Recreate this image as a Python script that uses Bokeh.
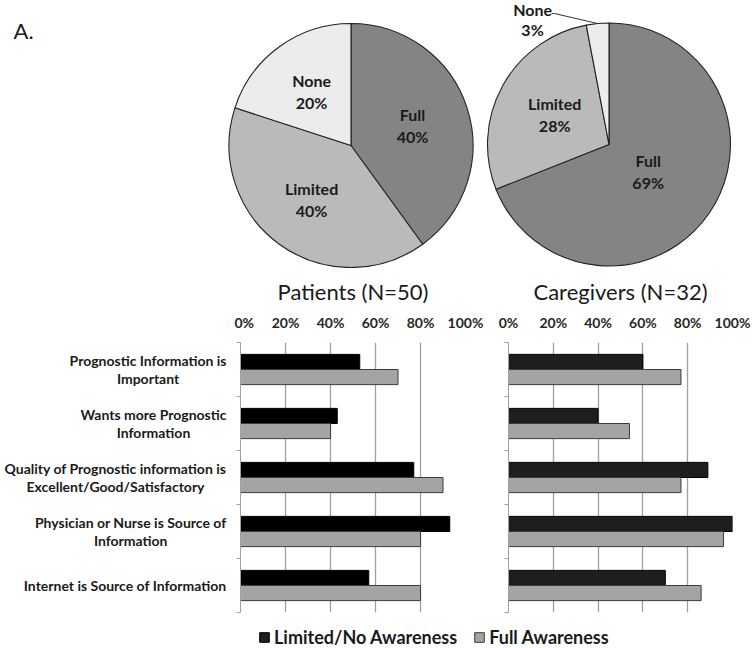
import numpy as np
import pandas as pd
from bokeh.plotting import figure
from bokeh.models import (ColumnDataSource, Range1d, FixedTicker, PrintfTickFormatter,
                          Label, Legend, LegendItem)
from bokeh.layouts import column, row
from bokeh.core.properties import value
from bokeh.embed import file_html
from bokeh.resources import INLINE

# ---------------- data ----------------
awareness_levels = ["Full", "Limited", "None"]
patients_pct = [40, 40, 20]
caregivers_pct = [69, 28, 3]

questions = [
    "Prognostic Information is\nImportant",
    "Wants more Prognostic\nInformation",
    "Quality of Prognostic information is\nExcellent/Good/Satisfactory",
    "Physician or Nurse is Source of\nInformation",
    "Internet is Source of Information",
]
patients_limited = [53, 43, 77, 93, 57]
patients_full = [70, 40, 90, 80, 80]
caregivers_limited = [60, 40, 89, 100, 70]
caregivers_full = [77, 54, 77, 96, 86]
x_ticks = [0, 20, 40, 60, 80, 100]
legend_labels = ["Limited/No Awareness", "Full Awareness"]

# ---------------- style ----------------
FONT = "Lato"
TXT = "#1a1a1a"
PIE_COLORS = ["#848484", "#bababa", "#ececec"]
GRID = "#a0a0a0"
GRAY_BAR = "#a4a4a4"
GRAY_EDGE = "#3c3c3c"

W = 752
PIE_H = 268

# ---------------- pies ----------------
pie = figure(width=W, height=PIE_H, x_range=Range1d(0, W), y_range=Range1d(0, PIE_H),
             output_backend="svg", toolbar_location=None, min_border=0)
pie.xaxis.visible = False
pie.yaxis.visible = False
pie.grid.visible = False
pie.outline_line_color = None


def add_pie(p, pcts, cx, cy, r, label_frac):
    frac = np.array(pcts, dtype=float) / sum(pcts)
    cum = np.cumsum(frac)
    start = np.pi / 2 - 2 * np.pi * (cum - frac)
    end = np.pi / 2 - 2 * np.pi * cum
    mid = (start + end) / 2
    df = pd.DataFrame(dict(level=awareness_levels, pct=pcts, start=start, end=end,
                           color=PIE_COLORS))
    p.wedge(x=cx, y=cy, radius=r, radius_units="screen", start_angle="start",
            end_angle="end", direction="clock", fill_color="color",
            line_color="#222222", line_width=1.1, source=ColumnDataSource(df))
    inside = frac >= 0.05
    lab = pd.DataFrame(dict(
        x=cx + np.array(label_frac) * r * np.cos(mid),
        y=cy + np.array(label_frac) * r * np.sin(mid),
        text=[f"{l}\n{v}%" for l, v in zip(awareness_levels, pcts)]))
    p.text(x="x", y="y", text="text", source=ColumnDataSource(lab[inside]),
           text_align="center", text_baseline="middle", text_font=value(FONT),
           text_font_style="bold", text_font_size="16px", text_color=TXT,
           text_line_height=1.15)
    # small slices: outside label with leader line
    for i in np.where(~inside)[0]:
        ax = cx + r * np.cos(mid[i])
        ay = cy + r * np.sin(mid[i])
        p.line(x=[ax, ax - 43, ax - 46], y=[ay, ay + 10, ay + 10], line_color="#333333",
               line_width=1)
        p.text(x=[ax - 65], y=[ay + 4], text=[lab.text[i]], text_align="center",
               text_baseline="middle", text_font=value(FONT), text_font_style="bold",
               text_font_size="16px", text_color=TXT, text_line_height=1.1)


add_pie(pie, patients_pct, 350.5, 123, 122, [0.53, 0.55, 0.55])
add_pie(pie, caregivers_pct, 608.5, 124, 121.5, [0.39, 0.51, 0.5])
pie.text(x=[13], y=[238], text=["A."], text_align="left", text_baseline="middle",
         text_font=value(FONT), text_font_size="22px", text_color=TXT)

# ---------------- bars ----------------
BAR_H = 352
n = len(questions)
idx = np.arange(n) + 0.5
bh = 0.28


def bar_fig(title, lim, full, width, left, right, top, plot_h, black, y_range):
    p = figure(width=width, height=BAR_H, x_range=Range1d(0, 100), y_range=y_range,
               x_axis_location="above", output_backend="svg", toolbar_location=None,
               min_border_left=left, min_border_right=right, min_border_top=top,
               min_border_bottom=BAR_H - top - plot_h, title=title)
    src = ColumnDataSource(dict(y_lim=idx - bh / 2, y_full=idx + bh / 2, lim=lim, full=full))
    p.hbar(y="y_lim", left=0, right="lim", height=bh, fill_color=black,
           line_color="#000000", line_width=1, source=src)
    p.hbar(y="y_full", left=0, right="full", height=bh, fill_color=GRAY_BAR,
           line_color=GRAY_EDGE, line_width=1, source=src)
    p.outline_line_color = None
    p.title.align = "center"
    p.title.text_font = FONT
    p.title.text_font_style = "normal"
    p.title.text_font_size = "22px"
    p.title.text_color = TXT
    p.title.standoff = 12
    xa = p.xaxis[0]
    xa.ticker = FixedTicker(ticks=x_ticks)
    xa.formatter = PrintfTickFormatter(format="%d%%")
    xa.axis_line_color = None
    xa.major_tick_line_color = None
    xa.minor_tick_line_color = None
    xa.major_label_text_font = FONT
    xa.major_label_text_font_style = "bold"
    xa.major_label_text_font_size = "14px"
    xa.major_label_text_color = "#262626"
    xa.major_label_standoff = 6
    ya = p.yaxis[0]
    ya.ticker = FixedTicker(ticks=[], minor_ticks=list(range(n + 1)))
    ya.major_label_standoff = 0
    ya.axis_line_color = GRID
    ya.major_tick_line_color = None
    ya.minor_tick_line_color = GRID
    ya.minor_tick_out = 4
    ya.minor_tick_in = 0
    p.xgrid.ticker = FixedTicker(ticks=x_ticks[1:])
    p.xgrid.grid_line_color = GRID
    p.xgrid.grid_line_width = 1.3
    p.ygrid.visible = False
    return p


pat_y = Range1d(n, 0)
pat = bar_fig("Patients (N=50)", patients_limited, patients_full, 258, 6, 27, 74, 270,
              "#000000", pat_y)
car = bar_fig("Caregivers (N=32)", caregivers_limited, caregivers_full, 260, 16, 20, 70, 279,
              "#1e1e1e", Range1d(n, 0))

# category labels
labfig = figure(width=234, height=BAR_H, x_range=Range1d(0, 1), y_range=pat_y,
                output_backend="svg", toolbar_location=None, min_border_left=0,
                min_border_right=0, min_border_top=74, min_border_bottom=BAR_H - 74 - 270)
labfig.xaxis.visible = False
labfig.yaxis.visible = False
labfig.grid.visible = False
labfig.outline_line_color = None
labfig.text(x=1, y="y", text="q", source=ColumnDataSource(dict(y=idx, q=questions)),
            anchor="center_right", text_align="center", text_baseline="middle",
            x_offset=-8, text_font=value(FONT), text_font_style="bold",
            text_font_size="14px", text_color=TXT, text_line_height=1.05)
labfig.add_layout(Label(x=0.0556, y=-0.3, text="B.", text_align="left",
                        text_baseline="middle", text_font=FONT, text_font_size="22px",
                        text_color=TXT))

# legend
LEG_H = 648 - PIE_H - BAR_H
leg = figure(width=W, height=LEG_H, x_range=Range1d(0, 1), y_range=Range1d(0, 1),
             output_backend="svg", toolbar_location=None, min_border=0)
leg.xaxis.visible = False
leg.yaxis.visible = False
leg.grid.visible = False
leg.outline_line_color = None
r1 = leg.hbar(y=[-5], right=[-5], height=0.1, fill_color="#1e1e1e", line_color="#000000")
r2 = leg.hbar(y=[-5], right=[-5], height=0.1, fill_color=GRAY_BAR, line_color=GRAY_EDGE)
legend = Legend(items=[LegendItem(label=legend_labels[0], renderers=[r1]),
                       LegendItem(label=legend_labels[1], renderers=[r2])],
                orientation="horizontal", location=(258, 0), border_line_color=None,
                background_fill_alpha=0, label_text_font=FONT,
                label_text_font_style="bold", label_text_font_size="18px",
                label_text_color=TXT, glyph_width=12, glyph_height=12,
                label_standoff=4, spacing=16, padding=0, margin=0)
leg.add_layout(legend, "center")

layout = column(pie, row(labfig, pat, car), leg)
open("out.html", "w").write(file_html(layout, INLINE))
